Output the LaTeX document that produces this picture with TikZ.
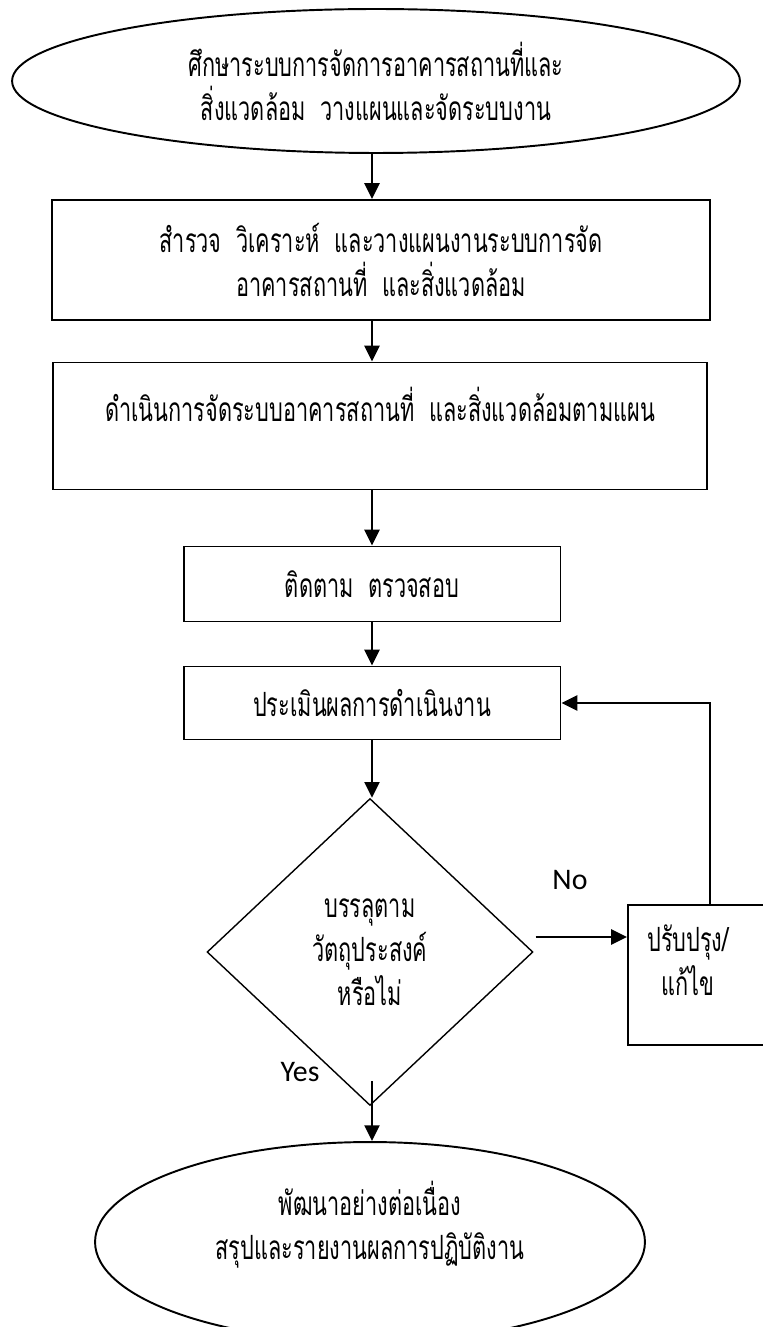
\documentclass[tikz,border=0pt]{standalone}
\usepackage{fontspec}
\setmainfont[Script=Thai, FakeStretch=0.65]{Loma}
\newfontfamily\latinfont{Carlito}
\usetikzlibrary{shapes.geometric,arrows.meta}

\tikzset{
    stepbox/.style={draw=black, line width=1.1pt, rectangle, align=center},
    termbox/.style={draw=black, line width=1.1pt, ellipse, align=center},
    askbox/.style={draw=black, line width=0.8pt, diamond, align=center, inner sep=0pt},
    arr/.style={-{Triangle[length=9pt,width=8.5pt]}, line width=1.4pt},
}

\begin{document}
\begin{tikzpicture}[x=0.02cm, y=-0.02cm, font=\fontsize{19}{25}\selectfont]
    \useasboundingbox (0,0) rectangle (762,1327);
    \coordinate (axis) at (372,0);

    % main flow
    \node[termbox, minimum width=14.56cm, minimum height=2.88cm] (start) at (376,81)
        {ศึกษาระบบการจัดการอาคารสถานที่และ\\สิ่งแวดล้อม\ \ วางแผนและจัดระบบงาน};
    \node[stepbox, minimum width=13.16cm, minimum height=2.4cm] (survey) at (381,260)
        {สำรวจ\ \ วิเคราะห์\ \ และวางแผนงานระบบการจัด\\อาคารสถานที่\ \ และสิ่งแวดล้อม};
    \node[stepbox, minimum width=13.1cm, minimum height=2.54cm] (operate) at (380,426)
        {ดำเนินการจัดระบบอาคารสถานที่\ \ และสิ่งแวดล้อมตามแผน\\~};
    \node[stepbox, minimum width=7.54cm, minimum height=1.5cm] (track) at (372,584)
        {ติดตาม\ \ ตรวจสอบ};
    \node[stepbox, minimum width=7.54cm, minimum height=1.46cm] (assess) at (372,703)
        {ประเมินผลการดำเนินงาน};
    \node[askbox, minimum width=6.52cm, minimum height=6.14cm] (decide) at (370,952)
        {บรรลุตาม\\วัตถุประสงค์\\หรือไม่};
    \node[termbox, minimum width=11cm, minimum height=4cm] (finish) at (370,1242)
        {พัฒนาอย่างต่อเนื่อง\\สรุปและรายงานผลการปฏิบัติงาน\\~};

    % fix loop
    \node[stepbox, minimum width=3.44cm, minimum height=2.8cm,
        label={[align=center, xshift=-0.52cm, yshift=0.3cm]center:ปรับปรุง/\\แก้ไข}] (fix) at (714,975) {};

    \node[font=\latinfont\fontsize{17}{20}\selectfont] (nolabel) at (570,880) {No};
    \node[font=\latinfont\fontsize{17}{20}\selectfont] (yeslabel) at (300,1072) {Yes};

    % connectors
    \draw[arr] (axis |- start.south) -- (axis |- survey.north);
    \draw[arr] (axis |- survey.south) -- (axis |- operate.north);
    \draw[arr] (axis |- operate.south) -- (axis |- track.north);
    \draw[arr] (axis |- track.south) -- (axis |- assess.north);
    \draw[arr] (axis |- assess.south) -- (axis |- decide.north);
    \draw[arr] ([xshift=0.04cm,yshift=0.3cm]decide.east) -- ([yshift=0.3cm]decide.east -| fix.west);
    \draw[arr] ([xshift=-0.08cm]fix.north) |- (assess.east);
    \draw[arr] ([yshift=0.5cm]axis |- decide.south) -- (axis |- finish.north);
\end{tikzpicture}
\end{document}
